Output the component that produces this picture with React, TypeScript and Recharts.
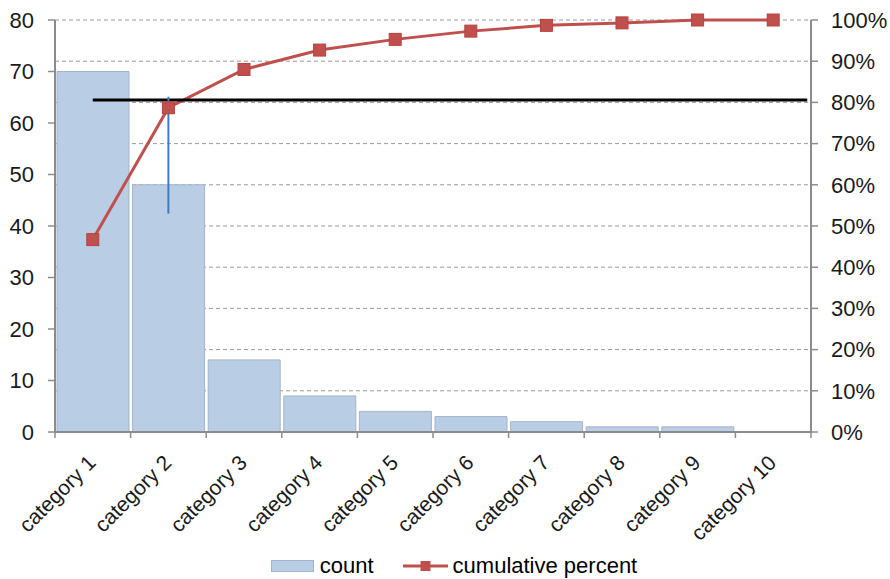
import React from 'react';
import {
  ComposedChart,
  Bar,
  Line,
  XAxis,
  YAxis,
  CartesianGrid,
  Legend,
  ReferenceLine,
} from 'recharts';

const categories = [
  'category 1',
  'category 2',
  'category 3',
  'category 4',
  'category 5',
  'category 6',
  'category 7',
  'category 8',
  'category 9',
  'category 10',
];
const counts = [70, 48, 14, 7, 4, 3, 2, 1, 1, 0];
const cumulativePercent = [46.7, 78.7, 88.0, 92.7, 95.3, 97.3, 98.7, 99.3, 100, 100];
const leftTicks = [0, 10, 20, 30, 40, 50, 60, 70, 80];
const rightTicks = [0, 10, 20, 30, 40, 50, 60, 70, 80, 90, 100];
const boundaryTicks = [0, 1, 2, 3, 4, 5, 6, 7, 8, 9, 10];
const thresholdPercent = 80.6;
const thresholdFrom = 0.5;
const thresholdTo = 9.95;
const markerX = 1.5;
const markerFrom = 42.4;
const markerTo = 65.1;

const data = categories.map((c, i) => ({
  category: c,
  count: counts[i],
  cumulative: cumulativePercent[i],
}));

const FONT = '"Liberation Sans", Arial, sans-serif';
const AXIS_GRAY = '#8c8c8c';
const BAR_FILL = '#b9cde5';
const BAR_STROKE = '#a3b4cb';
const RED = '#c0504d';

const CategoryTick = (props: any) => {
  const { x, y, payload } = props;
  return (
    <g transform={`translate(${x},${y})`}>
      <text
        x={0}
        y={0}
        dx={-19}
        dy={25}
        textAnchor="end"
        transform="rotate(-45)"
        fontSize={21}
        fontFamily={FONT}
        fill="#1a1a1a"
      >
        {payload.value}
      </text>
    </g>
  );
};

const EmptyTick = () => <g />;

const SquareDot = (props: any) => {
  const { cx, cy, index } = props;
  if (cx == null || cy == null) return <g key={index} />;
  return (
    <rect
      key={index}
      x={cx - 6}
      y={cy - 6}
      width={12}
      height={12}
      fill={RED}
      stroke="#b5423f"
      strokeWidth={1}
    />
  );
};

const LegendContent = (props: any) => {
  const { payload } = props;
  return (
    <div
      style={{
        display: 'flex',
        justifyContent: 'center',
        alignItems: 'center',
        fontFamily: FONT,
        fontSize: 22,
        color: '#000',
        paddingLeft: 18,
        paddingTop: 6,
      }}
    >
      {(payload || []).map((entry: any, i: number) => (
        <div
          key={i}
          style={{ display: 'flex', alignItems: 'center', marginRight: i === 0 ? 29 : 0 }}
        >
          {entry.type === 'line' ? (
            <svg width={45} height={14} style={{ marginRight: 5 }}>
              <line x1={0} y1={7} x2={45} y2={7} stroke={RED} strokeWidth={3} />
              <rect x={17.5} y={2} width={10} height={10} fill={RED} />
            </svg>
          ) : (
            <svg width={43} height={14} style={{ marginRight: 6 }}>
              <rect x={0.5} y={1.5} width={42} height={11} fill={BAR_FILL} stroke={BAR_STROKE} />
            </svg>
          )}
          <span>{entry.value}</span>
        </div>
      ))}
    </div>
  );
};

export default function App() {
  return (
    <div style={{ position: 'absolute', left: 0, top: 0, background: '#fff' }}>
      <ComposedChart
        width={890}
        height={579}
        data={data}
        margin={{ top: 20, right: 0, bottom: 0, left: 0 }}
        barCategoryGap={2}
      >
        <CartesianGrid
          yAxisId="right"
          xAxisId="bounds"
          vertical={false}
          stroke="#9a9a9a"
          strokeDasharray="4 3"
        />
        <XAxis
          xAxisId="bounds"
          dataKey="count"
          type="number"
          domain={[0, 10]}
          ticks={boundaryTicks}
          height={1}
          tick={EmptyTick}
          tickSize={6}
          tickLine={{ stroke: AXIS_GRAY, strokeWidth: 1.5 }}
          axisLine={{ stroke: AXIS_GRAY, strokeWidth: 2 }}
          allowDataOverflow
        />
        <XAxis
          xAxisId="cats"
          dataKey="category"
          type="category"
          height={114}
          interval={0}
          tickSize={0}
          tickMargin={0}
          tickLine={false}
          axisLine={false}
          tick={<CategoryTick />}
        />
        <YAxis
          yAxisId="left"
          orientation="left"
          width={55}
          domain={[0, 80]}
          ticks={leftTicks}
          tickSize={7}
          tickMargin={14}
          tick={{ fontSize: 22, fontFamily: FONT, fill: '#1a1a1a' }}
          tickLine={{ stroke: AXIS_GRAY, strokeWidth: 1.5 }}
          axisLine={{ stroke: AXIS_GRAY, strokeWidth: 2 }}
        />
        <YAxis
          yAxisId="right"
          orientation="right"
          width={79}
          domain={[0, 100]}
          ticks={rightTicks}
          tickFormatter={(v: number) => `${v}%`}
          tickSize={7}
          tickMargin={13}
          tick={{ fontSize: 22, fontFamily: FONT, fill: '#1a1a1a' }}
          tickLine={{ stroke: AXIS_GRAY, strokeWidth: 1.5 }}
          axisLine={{ stroke: AXIS_GRAY, strokeWidth: 2 }}
        />
        <Bar
          xAxisId="cats"
          yAxisId="left"
          dataKey="count"
          name="count"
          fill={BAR_FILL}
          stroke={BAR_STROKE}
          strokeWidth={1}
          legendType="rect"
          isAnimationActive={false}
        />
        <Line
          xAxisId="cats"
          yAxisId="right"
          type="linear"
          dataKey="cumulative"
          name="cumulative percent"
          stroke={RED}
          strokeWidth={3}
          dot={SquareDot}
          activeDot={false}
          legendType="line"
          isAnimationActive={false}
        />
        <ReferenceLine
          xAxisId="bounds"
          yAxisId="right"
          segment={[
            { x: thresholdFrom, y: thresholdPercent },
            { x: thresholdTo, y: thresholdPercent },
          ]}
          stroke="#000"
          strokeWidth={3}
        />
        <ReferenceLine
          xAxisId="bounds"
          yAxisId="left"
          segment={[
            { x: markerX, y: markerFrom },
            { x: markerX, y: markerTo },
          ]}
          stroke="#3f7cc0"
          strokeWidth={2}
        />
        <Legend verticalAlign="bottom" height={32} content={<LegendContent />} />
      </ComposedChart>
    </div>
  );
}
